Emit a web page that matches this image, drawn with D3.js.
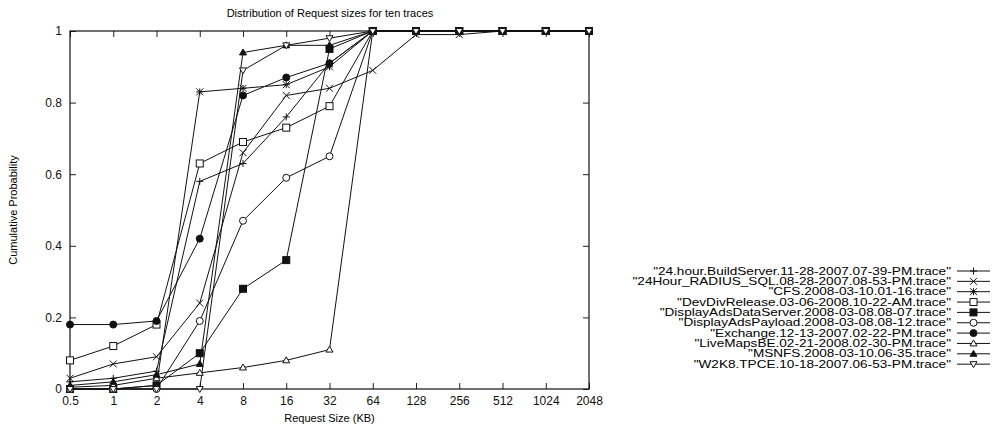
<!DOCTYPE html>
<html><head><meta charset="utf-8">
<script src="https://cdn.jsdelivr.net/npm/d3@7"></script>
<style>body{margin:0;background:#fff;}svg{display:block;font-family:"Liberation Sans",Arial,sans-serif;}</style>
</head><body>
<svg id="c" width="1002" height="427"></svg>
<script>
const sizes = ["0.5","1","2","4","8","16","32","64","128","256","512","1024","2048"];
const yTicks = [0, 0.2, 0.4, 0.6, 0.8, 1];
const seriesNames = [
  '"24.hour.BuildServer.11-28-2007.07-39-PM.trace"',
  '"24Hour_RADIUS_SQL.08-28-2007.08-53-PM.trace"',
  '"CFS.2008-03-10.01-16.trace"',
  '"DevDivRelease.03-06-2008.10-22-AM.trace"',
  '"DisplayAdsDataServer.2008-03-08.08-07.trace"',
  '"DisplayAdsPayload.2008-03-08.08-12.trace"',
  '"Exchange.12-13-2007.02-22-PM.trace"',
  '"LiveMapsBE.02-21-2008.02-30-PM.trace"',
  '"MSNFS.2008-03-10.06-35.trace"',
  '"W2K8.TPCE.10-18-2007.06-53-PM.trace"'
];
const markerTypes = ["plus","cross","star","square","fsquare","circle","fcircle","triangle","ftriangle","itriangle"];
const buildServer   = [0.02,0.03,0.05,0.58,0.63,0.76,0.91,1,1,1,1,1,1];
const radiusSql     = [0.03,0.07,0.09,0.24,0.66,0.82,0.84,0.89,0.99,0.99,1,1,1];
const cfs           = [0.0,0.0,0.01,0.83,0.84,0.85,0.90,1,1,1,1,1,1];
const devDiv        = [0.08,0.12,0.18,0.63,0.69,0.73,0.79,1,1,1,1,1,1];
const adsDataServer = [0,0,0.01,0.10,0.28,0.36,0.95,1,1,1,1,1,1];
const adsPayload    = [0,0,0,0.19,0.47,0.59,0.65,1,1,1,1,1,1];
const exchange      = [0.18,0.18,0.19,0.42,0.82,0.87,0.91,1,1,1,1,1,1];
const liveMaps      = [0.005,0.01,0.03,0.045,0.06,0.08,0.11,1,1,1,1,1,1];
const msnfs         = [0.01,0.02,0.04,0.07,0.94,0.96,0.96,1,1,1,1,1,1];
const w2k8          = [0,0,0,0,0.89,0.96,0.98,1,1,1,1,1,1];
const seriesValues = [buildServer,radiusSql,cfs,devDiv,adsDataServer,adsPayload,exchange,liveMaps,msnfs,w2k8];

const svg = d3.select("#c");
const L = 70, R = 589, T = 31, B = 389;
const x = d3.scalePoint().domain(sizes).range([L, R]);
const y = d3.scaleLinear().domain([0, 1]).range([B, T]);

// Title
svg.append("text").attr("x", 330).attr("y", 17).attr("text-anchor", "middle")
  .attr("font-size", 11).text("Distribution of Request sizes for ten traces");

// Axes
const fmtY = d => d === 0 ? "0" : d === 1 ? "1" : d3.format(".1f")(d);
const gB = svg.append("g").attr("transform", `translate(0,${B})`)
  .call(d3.axisBottom(x).tickSizeInner(-6).tickSizeOuter(0).tickPadding(7));
const gT = svg.append("g").attr("transform", `translate(0,${T})`)
  .call(d3.axisTop(x).tickSizeInner(-6).tickSizeOuter(0).tickFormat(""));
const gL = svg.append("g").attr("transform", `translate(${L},0)`)
  .call(d3.axisLeft(y).tickValues(yTicks).tickFormat(fmtY).tickSizeInner(-6).tickSizeOuter(0).tickPadding(8));
const gR = svg.append("g").attr("transform", `translate(${R},0)`)
  .call(d3.axisRight(y).tickValues(yTicks).tickFormat("").tickSizeInner(-6).tickSizeOuter(0));
[gB, gT, gL, gR].forEach(g => {
  g.select(".domain").remove();
  g.selectAll("line").attr("stroke", "#222");
  g.selectAll("text").attr("font-size", 12).attr("fill", "#111").attr("font-family", '"Liberation Sans",Arial,sans-serif');
});
svg.append("rect").attr("x", L).attr("y", T).attr("width", R - L).attr("height", B - T)
  .attr("fill", "none").attr("stroke", "#111").attr("stroke-width", 1.2);

// Axis labels
svg.append("text").attr("x", (L + R) / 2).attr("y", 422).attr("text-anchor", "middle")
  .attr("font-size", 11).text("Request Size (KB)");
svg.append("text").attr("transform", `translate(17,${(T + B) / 2}) rotate(-90)`)
  .attr("text-anchor", "middle").attr("font-size", 11).text("Cumulative Probability");

// markers
function drawMarker(g, type, cx, cy) {
  const s = 3.5;
  const st = {stroke: "#111", "stroke-width": 1};
  const app = (tag, attrs) => { const e = g.append(tag); Object.entries(Object.assign({}, st, attrs)).forEach(([k, v]) => e.attr(k, v)); return e; };
  switch (type) {
    case "plus": app("path", {d: `M${cx - s},${cy}H${cx + s}M${cx},${cy - s}V${cy + s}`, fill: "none"}); break;
    case "cross": app("path", {d: `M${cx - s},${cy - s}L${cx + s},${cy + s}M${cx - s},${cy + s}L${cx + s},${cy - s}`, fill: "none"}); break;
    case "star": app("path", {d: `M${cx - s},${cy - s}L${cx + s},${cy + s}M${cx - s},${cy + s}L${cx + s},${cy - s}M${cx - s},${cy}H${cx + s}M${cx},${cy - s}V${cy + s}`, fill: "none"}); break;
    case "square": app("rect", {x: cx - s, y: cy - s, width: 2 * s, height: 2 * s, fill: "#fff"}); break;
    case "fsquare": app("rect", {x: cx - s, y: cy - s, width: 2 * s, height: 2 * s, fill: "#111"}); break;
    case "circle": app("circle", {cx: cx, cy: cy, r: s, fill: "#fff"}); break;
    case "fcircle": app("circle", {cx: cx, cy: cy, r: s, fill: "#111"}); break;
    case "triangle": app("path", {d: `M${cx},${cy - s}L${cx + s},${cy + s * 0.7}L${cx - s},${cy + s * 0.7}Z`, fill: "#fff"}); break;
    case "ftriangle": app("path", {d: `M${cx},${cy - s}L${cx + s},${cy + s * 0.7}L${cx - s},${cy + s * 0.7}Z`, fill: "#111"}); break;
    case "itriangle": app("path", {d: `M${cx},${cy + s}L${cx + s},${cy - s * 0.7}L${cx - s},${cy - s * 0.7}Z`, fill: "#fff"}); break;
  }
}

const line = d3.line().x((d, i) => x(sizes[i])).y(d => y(d));
const plot = svg.append("g");
seriesValues.forEach((vals, si) => {
  plot.append("path").datum(vals).attr("d", line).attr("fill", "none")
    .attr("stroke", "#111").attr("stroke-width", 1);
});
seriesValues.forEach((vals, si) => {
  const g = plot.append("g");
  vals.forEach((v, i) => drawMarker(g, markerTypes[si], x(sizes[i]), y(v)));
});

// Legend
const legend = svg.append("g");
seriesNames.forEach((name, i) => {
  const ly = 271 + i * 10.35;
  legend.append("text").attr("transform", `translate(951,${ly + 3.5}) scale(1.36,1)`)
    .attr("text-anchor", "end").attr("font-size", 10).text(name);
  legend.append("line").attr("x1", 957).attr("x2", 990).attr("y1", ly).attr("y2", ly)
    .attr("stroke", "#111").attr("stroke-width", 1);
  drawMarker(legend.append("g"), markerTypes[i], 973.5, ly);
});
</script>
</body></html>
